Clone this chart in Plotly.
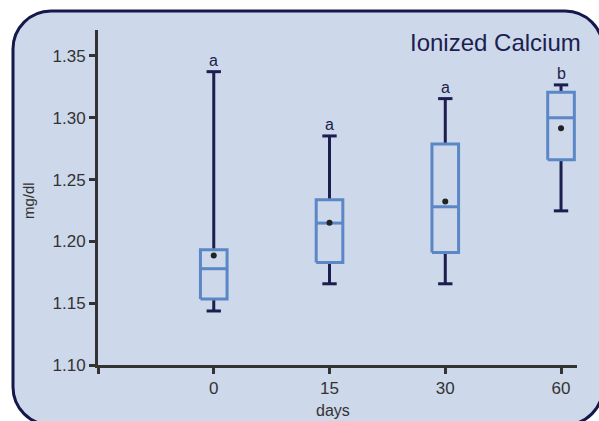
import plotly.graph_objects as go

# ---- data ----
days = ["0", "15", "30", "60"]
lower = [1.1437, 1.1657, 1.1657, 1.2247]
q1 = [1.1534, 1.1829, 1.1910, 1.2660]
median = [1.1779, 1.2148, 1.2280, 1.3000]
q3 = [1.1932, 1.2336, 1.2787, 1.3207]
upper = [1.3373, 1.2853, 1.3155, 1.3266]
means = [1.1886, 1.2150, 1.2323, 1.2916]
letters = ["a", "a", "a", "b"]

y_ticks = [1.10, 1.15, 1.20, 1.25, 1.30, 1.35]

# ---- styles ----
W, H = 599, 421
ML, MR, MT, MB = 98, 22, 30, 56
PW, PH = W - ML - MR, H - MT - MB
NAVY = "#1b1e4f"
BOXC = "#5b87c6"
AX = "#333333"
BG = "#cdd8ea"
FONT = "Liberation Sans, Arial, sans-serif"
BOX_HALF = 0.115
CAP_HALF = 0.062

xs = list(range(len(days)))

# whiskers + caps
wx, wy = [], []
for i in xs:
    wx += [i, i, None, i, i, None]
    wy += [q3[i], upper[i], None, q1[i], lower[i], None]
    wx += [i - CAP_HALF, i + CAP_HALF, None, i - CAP_HALF, i + CAP_HALF, None]
    wy += [upper[i], upper[i], None, lower[i], lower[i], None]

# boxes
bx, by = [], []
for i in xs:
    bx += [i - BOX_HALF, i + BOX_HALF, i + BOX_HALF, i - BOX_HALF, i - BOX_HALF, None]
    by += [q1[i], q1[i], q3[i], q3[i], q1[i], None]
    bx += [i - BOX_HALF, i + BOX_HALF, None]
    by += [median[i], median[i], None]

fig = go.Figure()
fig.add_trace(go.Scatter(x=wx, y=wy, mode="lines", line=dict(color=NAVY, width=3),
                         hoverinfo="skip", showlegend=False))
fig.add_trace(go.Scatter(x=bx, y=by, mode="lines", line=dict(color=BOXC, width=3),
                         hoverinfo="skip", showlegend=False))
fig.add_trace(go.Scatter(x=xs, y=means, mode="markers",
                         marker=dict(color="#222222", size=6), showlegend=False))

# letters
for i in xs:
    fig.add_annotation(x=i, y=upper[i], text=letters[i], showarrow=False,
                       xref="x", yref="y", yanchor="bottom", yshift=1,
                       font=dict(size=16, color=NAVY, family=FONT))

def px2paper(px, py):
    return (px - ML) / PW, (H - MB - py) / PH

# rounded panel
L, T, Rr, B, R = 13, 11, 603, 425, 38
k = 0.5523 * R
def P(x, y):
    a, b = px2paper(x, y)
    return f"{a:.5f},{b:.5f}"
path = (f"M {P(L + R, T)} L {P(Rr - R, T)} "
        f"C {P(Rr - R + k, T)} {P(Rr, T + R - k)} {P(Rr, T + R)} "
        f"L {P(Rr, B - R)} "
        f"C {P(Rr, B - R + k)} {P(Rr - R + k, B)} {P(Rr - R, B)} "
        f"L {P(L + R, B)} "
        f"C {P(L + R - k, B)} {P(L, B - R + k)} {P(L, B - R)} "
        f"L {P(L, T + R)} "
        f"C {P(L, T + R - k)} {P(L + R - k, T)} {P(L + R, T)} Z")
fig.add_shape(type="path", path=path, xref="paper", yref="paper",
              fillcolor=BG, line=dict(color="#15184a", width=3), layer="below")

# title and axis titles
tx, ty = px2paper(583, 42)
fig.add_annotation(x=tx, y=ty, xref="paper", yref="paper", text="Ionized Calcium",
                   showarrow=False, xanchor="right", yanchor="middle",
                   font=dict(size=24, color="#1c2050", family=FONT))
ax_, ay_ = px2paper(28, 201)
fig.add_annotation(x=ax_, y=ay_, xref="paper", yref="paper", text="mg/dl",
                   showarrow=False, textangle=-90, xanchor="center", yanchor="middle",
                   font=dict(size=15, color=AX, family=FONT))
dx_, dy_ = px2paper(333, 410)
fig.add_annotation(x=dx_, y=dy_, xref="paper", yref="paper", text="days",
                   showarrow=False, xanchor="center", yanchor="middle",
                   font=dict(size=16, color=AX, family=FONT))

fig.update_xaxes(range=[-1, 3.138], tickvals=[-1] + xs, ticktext=[""] + days,
                 showgrid=False, zeroline=False, showline=True, linecolor=AX, linewidth=3,
                 ticks="outside", ticklen=6, tickwidth=3, tickcolor=AX,
                 tickfont=dict(size=17, color=AX, family=FONT))
fig.update_yaxes(range=[1.10, 1.371], tickvals=y_ticks,
                 ticktext=[f"{v:.2f}" for v in y_ticks],
                 showgrid=False, zeroline=False, showline=True, linecolor=AX, linewidth=3,
                 ticks="outside", ticklen=6, tickwidth=3, tickcolor=AX,
                 tickfont=dict(size=17, color=AX, family=FONT))

fig.update_layout(width=W, height=H, margin=dict(l=ML, r=MR, t=MT, b=MB),
                  paper_bgcolor="white", plot_bgcolor="rgba(0,0,0,0)",
                  showlegend=False, font=dict(family=FONT))

fig.write_html("out.html", config={"displayModeBar": False})
